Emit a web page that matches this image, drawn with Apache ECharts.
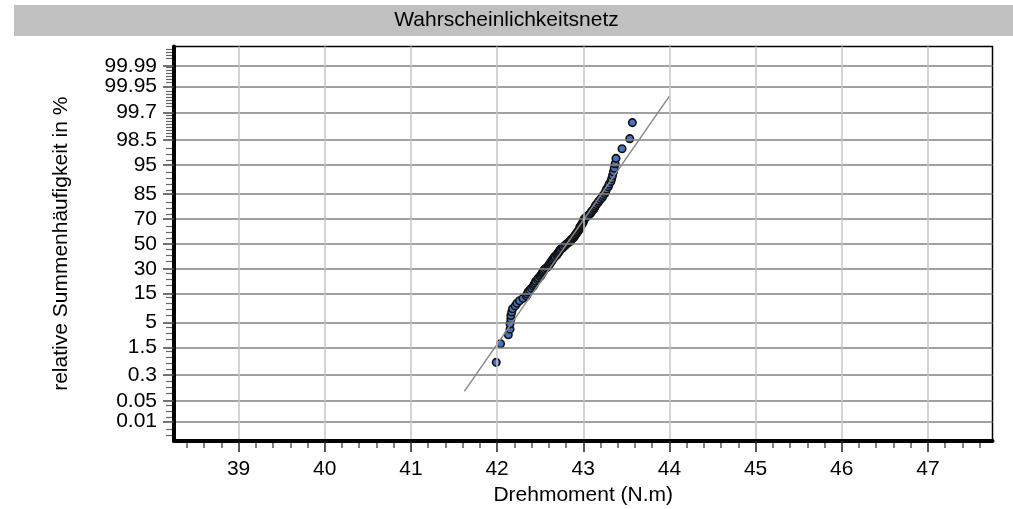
<!DOCTYPE html>
<html>
<head>
<meta charset="utf-8">
<script src="https://cdn.jsdelivr.net/npm/echarts@6/dist/echarts.min.js"></script>
<style>
html,body{margin:0;padding:0;background:#fff;}
#chart{width:1013px;height:509px;}
</style>
</head>
<body>
<div id="chart"></div>
<script>
// ---- data ----
const chartTitle = 'Wahrscheinlichkeitsnetz';
const xAxisTitle = 'Drehmoment (N.m)';
const yAxisTitle = 'relative Summenhäufigkeit in %';

const xTickLabels = [39, 40, 41, 42, 43, 44, 45, 46, 47];
const yTickLabels = ['0.01','0.05','0.3','1.5','5','15','30','50','70','85','95','98.5','99.7','99.95','99.99'];

// sorted torque values (N.m)
const torque = [
  41.99, 42.04, 42.13, 42.15, 42.15, 42.16, 42.16, 42.17, 42.18, 42.21,
  42.23, 42.26, 42.30, 42.34, 42.35, 42.36, 42.38, 42.40, 42.42, 42.43,
  42.44, 42.45, 42.47, 42.48, 42.50, 42.51, 42.52, 42.53, 42.54, 42.55,
  42.57, 42.59, 42.60, 42.61, 42.62, 42.63, 42.64, 42.65, 42.66, 42.67,
  42.69, 42.70, 42.71, 42.72, 42.73, 42.74, 42.76, 42.77, 42.79, 42.80,
  42.82, 42.84, 42.85, 42.86, 42.88, 42.89, 42.90, 42.91, 42.92, 42.93,
  42.94, 42.95, 42.96, 42.96, 42.97, 42.98, 42.99, 43.00, 43.00, 43.01,
  43.02, 43.04, 43.06, 43.08, 43.09, 43.10, 43.12, 43.13, 43.14, 43.15,
  43.17, 43.18, 43.20, 43.22, 43.23, 43.25, 43.26, 43.27, 43.29, 43.30,
  43.32, 43.33, 43.34, 43.35, 43.36, 43.37, 43.38, 43.45, 43.54, 43.57
];
// cumulative frequency (%) of each point
const cumPercent = [
  0.65, 1.82, 2.84, 3.69, 4.68, 5.68, 6.67, 7.67, 8.66, 9.66,
  10.66, 11.65, 12.65, 13.65, 14.64, 15.64, 16.63, 17.63, 18.63, 19.62,
  20.62, 21.61, 22.61, 23.61, 24.60, 25.60, 26.59, 27.59, 28.59, 29.58,
  30.58, 31.57, 32.57, 33.57, 34.56, 35.56, 36.55, 37.55, 38.55, 39.54,
  40.54, 41.53, 42.53, 43.53, 44.52, 45.52, 46.51, 47.51, 48.51, 49.50,
  50.50, 51.49, 52.49, 53.49, 54.48, 55.48, 56.47, 57.47, 58.47, 59.46,
  60.46, 61.45, 62.45, 63.45, 64.44, 65.44, 66.43, 67.43, 68.43, 69.42,
  70.42, 71.41, 72.41, 73.41, 74.40, 75.40, 76.39, 77.39, 78.39, 79.38,
  80.38, 81.37, 82.37, 83.37, 84.36, 85.36, 86.35, 87.35, 88.35, 89.34,
  90.34, 91.33, 92.33, 93.33, 94.32, 95.32, 96.31, 97.67, 98.61, 99.44
];
// fitted normal line endpoints
const fitX = [41.62, 44.0];
const fitPercent = [0.1, 99.9];

// ---- probability-paper transform (inverse normal CDF) ----
function probit(p) {
  const a=[-3.969683028665376e+01,2.209460984245205e+02,-2.759285104469687e+02,1.383577518672690e+02,-3.066479806614716e+01,2.506628277459239e+00];
  const b=[-5.447609879822406e+01,1.615858368580409e+02,-1.556989798598866e+02,6.680131188771972e+01,-1.328068155288572e+01];
  const c=[-7.784894002430293e-03,-3.223964580411365e-01,-2.400758277161838e+00,-2.549671348358000e+00,4.374664141464968e+00,2.938163982698783e+00];
  const d=[7.784695709041462e-03,3.224671290700398e-01,2.445134137142996e+00,3.754408661907416e+00];
  const pl=0.02425, ph=1-pl; let q, r;
  if (p < pl) { q=Math.sqrt(-2*Math.log(p)); return (((((c[0]*q+c[1])*q+c[2])*q+c[3])*q+c[4])*q+c[5])/((((d[0]*q+d[1])*q+d[2])*q+d[3])*q+1); }
  if (p <= ph) { q=p-0.5; r=q*q; return (((((a[0]*r+a[1])*r+a[2])*r+a[3])*r+a[4])*r+a[5])*q/(((((b[0]*r+b[1])*r+b[2])*r+b[3])*r+b[4])*r+1); }
  q=Math.sqrt(-2*Math.log(1-p)); return -(((((c[0]*q+c[1])*q+c[2])*q+c[3])*q+c[4])*q+c[5])/((((d[0]*q+d[1])*q+d[2])*q+d[3])*q+1);
}
const z = pct => probit(pct / 100);

const yMajor = yTickLabels.map(s => z(parseFloat(s)));
const yInner = yMajor.slice(1, -1);                       // labels on main axis
const yOuter = [yMajor[0], yMajor[yMajor.length - 1]];    // outermost labels on helper axis
function yLabelFor(v) {
  for (let i = 0; i < yMajor.length; i++) if (Math.abs(yMajor[i] - v) < 1e-6) return yTickLabels[i];
  return '';
}
// minor tick positions (decoration)
const yMinor = [];
for (let k = -33; k <= 33; k++) {
  const v = k * 0.125;
  if (Math.abs(v) > 4.12) continue;
  if (yMajor.some(m => Math.abs(m - v) < 0.05)) continue;
  yMinor.push(v);
  if (v >= 2.2 && v + 0.0625 < 4.12 && !yMajor.some(m => Math.abs(m - (v + 0.0625)) < 0.03)) yMinor.push(v + 0.0625);
}
const xMinor = [];
for (let k = 192; k <= 238; k++) { if (k % 5 !== 0) xMinor.push(k / 5); }

const FONT = 'Liberation Sans, Arial, sans-serif';
const XMIN = 38.25, XMAX = 47.75, YMIN = -4.13, YMAX = 4.13;
const yLabelStyle = {margin: 17, fontSize: 21, fontFamily: FONT, color: '#000',
                     showMinLabel: true, showMaxLabel: true, hideOverlap: false, formatter: yLabelFor};

const chart = echarts.init(document.getElementById('chart'), null, {renderer: 'canvas'});
chart.setOption({
  animation: false,
  backgroundColor: '#fff',
  title: {
    text: chartTitle, left: 'center', top: 10, padding: 0,
    textStyle: {fontSize: 21, fontWeight: 'normal', fontFamily: FONT, color: '#000', lineHeight: 21}
  },
  graphic: [{
    type: 'rect', z: -10, shape: {x: 14, y: 5, width: 999, height: 31},
    style: {fill: '#c0c0c0'}
  }],
  grid: {
    left: 174, right: 20.5, top: 46.5, bottom: 68,
    show: true, borderColor: '#000', borderWidth: 1.5, backgroundColor: '#fff',
    outerBoundsMode: 'none', containLabel: false
  },
  xAxis: [{
    type: 'value', position: 'bottom', min: XMIN, max: XMAX,
    name: xAxisTitle, nameLocation: 'middle', nameGap: 43,
    nameTextStyle: {fontSize: 21, fontFamily: FONT, color: '#000'},
    axisLine: {show: true, onZero: false, lineStyle: {color: '#000', width: 4}},
    axisTick: {show: true, customValues: xTickLabels, length: 11, lineStyle: {color: '#222', width: 1.5}},
    axisLabel: {customValues: xTickLabels, margin: 18, fontSize: 21, fontFamily: FONT, color: '#000',
                showMinLabel: true, showMaxLabel: true, hideOverlap: false},
    splitLine: {show: true, lineStyle: {color: '#c4c4c4', width: 1.5}},
    z: 5
  }, {
    type: 'value', position: 'bottom', min: XMIN, max: XMAX,
    axisLine: {show: false, onZero: false},
    axisTick: {show: true, customValues: xMinor, length: 7, lineStyle: {color: '#555', width: 1.5}},
    axisLabel: {show: false},
    splitLine: {show: false}
  }],
  yAxis: [{
    type: 'value', position: 'left', min: YMIN, max: YMAX,
    name: yAxisTitle, nameLocation: 'middle', nameGap: 102,
    nameTextStyle: {fontSize: 21, fontFamily: FONT, color: '#000'},
    axisLine: {show: true, onZero: false, lineStyle: {color: '#000', width: 4}},
    axisTick: {show: true, customValues: yMajor, length: 11, lineStyle: {color: '#444', width: 1.5}},
    axisLabel: Object.assign({customValues: yInner}, yLabelStyle),
    splitLine: {show: true, lineStyle: {color: '#808080', width: 1.5}},
    z: 5
  }, {
    type: 'value', position: 'left', min: YMIN, max: YMAX,
    axisLine: {show: false, onZero: false},
    axisTick: {show: true, customValues: yMinor, length: 8, lineStyle: {color: '#666', width: 1.2}},
    axisLabel: {show: false},
    splitLine: {show: false}
  }, {
    type: 'value', position: 'left', min: YMIN, max: YMAX,
    axisLine: {show: false, onZero: false},
    axisTick: {show: false},
    axisLabel: Object.assign({customValues: yOuter}, yLabelStyle),
    splitLine: {show: false}
  }],
  series: [{
    type: 'scatter',
    xAxisIndex: 0, yAxisIndex: 0,
    data: torque.map((t, i) => [t, z(cumPercent[i])]),
    symbol: 'circle', symbolSize: 7.5,
    itemStyle: {color: '#4a72b8', borderColor: '#111', borderWidth: 1.6, opacity: 1},
    z: 3
  }, {
    type: 'line',
    xAxisIndex: 0, yAxisIndex: 0,
    data: fitX.map((x, i) => [x, z(fitPercent[i])]),
    showSymbol: false, symbol: 'none',
    lineStyle: {color: '#8a8a8a', width: 1.5},
    z: 4
  }]
});
</script>
</body>
</html>
